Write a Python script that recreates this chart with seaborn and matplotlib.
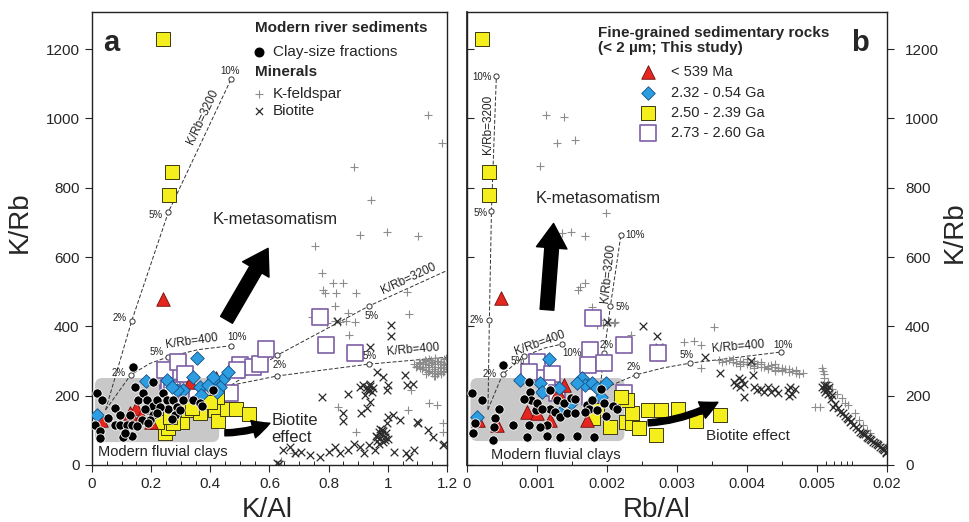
import numpy as np
import pandas as pd
import seaborn as sns
import matplotlib.pyplot as plt
from matplotlib.patches import FancyBboxPatch, FancyArrowPatch
from matplotlib.ticker import MultipleLocator, FixedLocator, FixedFormatter

sns.set_theme(style='ticks')
plt.rcParams['font.family'] = ['Liberation Sans', 'DejaVu Sans']

# ---------------- panel a : K/Al vs K/Rb ----------------
clay_a_x = [0.018, 0.010, 0.027, 0.033, 0.055, 0.078, 0.078, 0.095, 0.104, 0.117, 0.134, 0.138, 0.145, 0.157,
            0.173, 0.185, 0.19, 0.207, 0.207, 0.219, 0.241, 0.252, 0.258, 0.275, 0.286, 0.281, 0.297, 0.309,
            0.269, 0.342, 0.365, 0.371, 0.41, 0.168, 0.128, 0.196, 0.23, 0.219, 0.095, 0.179, 0.137, 0.112,
            0.19, 0.153, 0.027, 0.207]
clay_a_y = [208, 115, 99, 187, 135, 165, 115, 115, 82, 115, 115, 284, 226, 187, 207, 187, 159, 170, 144, 187,
            207, 187, 163, 187, 168, 144, 159, 187, 134, 187, 178, 170, 216, 130, 144, 130, 168, 149, 144, 163,
            85, 93, 120, 112, 78, 240]

red_a_x = [0.24, 0.13, 0.15, 0.20, 0.165, 0.33, 0.03, 0.42]
red_a_y = [480, 150, 165, 125, 140, 240, 130, 250]

blue_a_x = [0.018, 0.183, 0.354, 0.444, 0.41, 0.46, 0.252, 0.309, 0.365, 0.433, 0.421, 0.342, 0.393, 0.286,
            0.37, 0.269, 0.41]
blue_a_y = [145, 242, 308, 247, 245, 269, 245, 216, 224, 226, 211, 255, 231, 216, 202, 226, 255]

yel_a_x = [0.24, 0.27, 0.26, 0.247, 0.256, 0.303, 0.326, 0.365, 0.337, 0.416, 0.427, 0.455, 0.487, 0.532,
           0.421, 0.219, 0.275, 0.264, 0.399]
yel_a_y = [1230, 845, 780, 91, 106, 125, 159, 149, 165, 159, 128, 163, 163, 146, 197, 125, 122, 139, 183]

pur_a_x = [0.247, 0.292, 0.314, 0.5, 0.545, 0.568, 0.588, 0.489, 0.77, 0.79, 0.89, 0.258, 0.354, 0.467,
           0.262, 0.27]
pur_a_y = [274, 298, 262, 288, 282, 291, 334, 274, 428, 346, 322, 207, 202, 209, 222, 216]

kfs_a_x = [1.135, 1.182, 0.887, 0.943, 0.754, 0.906, 0.996, 1.103, 0.776, 0.78, 0.816, 0.85, 0.825, 0.788,
           0.893, 0.822, 0.867, 1.073, 1.064, 0.87, 0.743, 0.77, 0.838, 0.86, 0.89, 0.795, 0.82, 1.069,
           1.165, 1.188, 0.833, 0.892, 1.188, 1.08, 0.68, 0.64, 1.14,
           1.09, 1.10, 1.11, 1.12, 1.12, 1.13, 1.13, 1.14, 1.14, 1.14, 1.15, 1.15, 1.15, 1.16, 1.16, 1.16,
           1.17, 1.17, 1.17, 1.18, 1.18, 1.18, 1.19, 1.19, 1.19, 1.2, 1.2, 1.11, 1.13, 1.16,
           1.095, 1.105, 1.115, 1.125, 1.135, 1.145, 1.155, 1.165, 1.175, 1.185, 1.195, 1.125, 1.145, 1.165,
           1.185, 1.105, 1.135, 1.155, 1.175, 1.195]
kfs_a_y = [1009, 928, 860, 766, 632, 665, 673, 660, 553, 505, 524, 524, 495, 495, 495, 459, 439, 437, 500,
           375, 428, 424, 413, 416, 413, 410, 415, 159, 173, 120, 168, 96, 96, 216, 34, 12, 180,
           290, 286, 294, 282, 298, 275, 300, 270, 288, 305, 264, 282, 298, 272, 290, 308, 266, 284, 300,
           262, 280, 296, 270, 288, 305, 276, 295, 280, 262, 258,
           284, 292, 278, 290, 268, 294, 278, 300, 272, 290, 282, 302, 304, 262, 268, 296, 284, 258, 290, 310]

bt_a_x = [1.011, 1.011, 0.94, 0.827, 0.776, 0.867, 0.962, 0.985, 1.058, 0.917, 0.906, 0.929, 0.923, 0.996,
          0.999, 1.064, 0.85, 0.85, 0.91, 0.93, 0.94, 0.996, 1.0, 1.019, 1.04, 1.103, 1.137, 1.1, 1.153,
          1.188, 0.647, 0.669, 0.686, 0.708, 0.737, 0.77, 0.8, 0.82, 0.84, 0.867, 0.885, 0.906, 0.918,
          0.935, 0.957, 1.02, 1.06, 1.09, 1.07, 0.624, 0.633, 1.19, 1.085,
          0.96, 0.965, 0.97, 0.975, 0.98, 0.985, 0.99, 0.995, 0.97, 0.98, 0.99, 0.975, 0.965, 1.0, 0.985,
          0.93, 0.935, 0.94, 0.945, 0.95, 0.94]
bt_a_y = [404, 372, 341, 415, 197, 205, 269, 255, 260, 231, 226, 216, 202, 216, 231, 231, 149, 127, 149,
          164, 183, 120, 139, 144, 130, 121, 101, 125, 82, 58, 43, 53, 34, 38, 29, 24, 38, 53, 34, 43, 62,
          53, 34, 58, 43, 38, 34, 43, 24, 5, 2, 62, 235,
          85, 70, 95, 78, 88, 65, 80, 92, 60, 100, 72, 105, 80, 75, 98,
          225, 215, 235, 210, 222, 228]

# mixing curves (K/Rb = 3200 and 400) with 2, 5, 10 % marks
mix_a = [
    ([0.046, 0.134, 0.258, 0.47], [159, 415, 729, 1113]),
    ([0.046, 0.131, 0.196, 0.258, 0.36, 0.469], [159, 260, 293, 312, 333, 344]),
    ([0.47, 0.627, 0.937, 1.2], [230, 317, 459, 561]),
    ([0.47, 0.627, 0.936, 1.2], [230, 257, 291, 311]),
]
pct_a_x = [0.134, 0.258, 0.47, 0.131, 0.258, 0.469, 0.627, 0.937, 0.627, 0.936]
pct_a_y = [415, 729, 1113, 260, 312, 344, 317, 459, 257, 291]

# ---------------- panel b : Rb/Al vs K/Rb ----------------
clay_b_x = [0.000115, 0.00021, 0.00037, 0.0004, 0.00046, 0.00038, 0.00051, 0.00066, 0.00088, 0.0009,
            0.00091, 0.00088, 0.00098, 0.001, 0.00115, 0.00115, 0.00119, 0.00126, 0.00129, 0.00133,
            0.00138, 0.00143, 0.00148, 0.00155, 0.00157, 0.00105, 0.00172, 0.00174, 0.00179, 0.00186,
            0.00196, 0.00198, 0.00191, 0.00181, 0.00208, 0.00169, 0.00086, 0.00133, 0.00081, 0.00119,
            0.00107, 0.00155, 0.00215, 0.00007, 0.00009]
clay_b_y = [120, 187, 72, 135, 163, 110, 288, 115, 240, 211, 187, 115, 159, 178, 115, 84, 163, 154, 187,
            139, 178, 149, 192, 190, 84, 110, 173, 163, 187, 159, 178, 141, 218, 82, 170, 154, 82, 82, 190,
            216, 163, 149, 163, 207, 93]

red_b_x = [0.00049, 0.00086, 0.00119, 0.00138, 0.00043, 0.00172, 0.0013, 0.001, 0.00016]
red_b_y = [481, 154, 130, 231, 115, 130, 210, 149, 130]

blue_b_x = [0.00014, 0.00076, 0.00117, 0.00105, 0.00131, 0.00165, 0.00169, 0.00179, 0.00186, 0.00198,
            0.00148, 0.00157, 0.00133, 0.00191, 0.00107]
blue_b_y = [139, 245, 305, 236, 221, 250, 231, 238, 221, 236, 178, 236, 149, 197, 211]

yel_b_x = [0.00021, 0.00032, 0.00032, 0.00205, 0.00227, 0.00236, 0.00236, 0.00246, 0.00258, 0.00277,
           0.0027, 0.00301, 0.00327, 0.00362, 0.00229, 0.0022, 0.00186, 0.0018]
yel_b_y = [1230, 845, 780, 110, 125, 120, 149, 106, 159, 159, 87, 161, 128, 144, 187, 197, 159, 135]

pur_b_x = [0.0018, 0.00176, 0.00173, 0.00196, 0.00224, 0.00273, 0.001, 0.00088, 0.00122, 0.00114,
           0.00129, 0.00176, 0.00224]
pur_b_y = [423, 332, 288, 293, 346, 322, 298, 269, 262, 221, 207, 197, 207]

kfs_b_x = [0.00113, 0.00139, 0.00128, 0.00154, 0.00104, 0.00199, 0.00136, 0.00148, 0.00168, 0.00162,
           0.00158, 0.00168, 0.00179, 0.0018, 0.00191, 0.00203, 0.0021, 0.00212, 0.00195, 0.00186,
           0.00234, 0.00353, 0.0031, 0.00325, 0.00334, 0.00334, 0.00497, 0.0053,
           0.0036, 0.0037, 0.0038, 0.0039, 0.0039, 0.004, 0.004, 0.0041, 0.0041, 0.0042, 0.0042, 0.0043,
           0.0043, 0.0044, 0.0044, 0.0045, 0.0045, 0.0046, 0.0046, 0.0047, 0.0047, 0.0048, 0.0038, 0.0041,
           0.0044,
           0.00365, 0.00375, 0.00385, 0.00395, 0.00405, 0.00415, 0.00425, 0.00435, 0.00445, 0.00455,
           0.00465, 0.00475, 0.0039, 0.0041, 0.0043, 0.0045, 0.0047, 0.004, 0.0042, 0.0044,
           0.00548, 0.0056, 0.0057, 0.00625, 0.00739, 0.00815, 0.0093, 0.0106, 0.0125, 0.0143, 0.0163,
           0.0197, 0.0068, 0.0088, 0.0115, 0.0135, 0.0175, 0.0062, 0.0058]
kfs_b_y = [1011, 1003, 930, 939, 862, 726, 668, 673, 660, 514, 505, 524, 457, 428, 418, 414, 409, 414,
           404, 404, 375, 399, 356, 359, 346, 279, 168, 168,
           302, 300, 296, 292, 300, 290, 298, 285, 294, 282, 290, 278, 287, 275, 284, 272, 280, 268, 277,
           266, 273, 265, 305, 300, 270,
           298, 303, 294, 297, 288, 292, 284, 288, 279, 276, 271, 262, 286, 280, 280, 274, 270, 306, 296, 290,
           279, 270, 262, 231, 205, 192, 173, 149, 115, 91, 67, 53, 220, 180, 130, 100, 60, 240, 250]

bt_b_x = [0.00252, 0.00272, 0.00275, 0.002, 0.0034, 0.00361, 0.00406, 0.00408, 0.00396,
          0.00382, 0.00385, 0.00388, 0.0039, 0.00393, 0.00396, 0.0041, 0.00415, 0.0042, 0.00425, 0.0043,
          0.00435, 0.0044, 0.00445, 0.00459, 0.00462, 0.00465, 0.00468, 0.0046,
          0.00548, 0.0058, 0.006, 0.00606, 0.0062, 0.0064, 0.00669, 0.0069, 0.0079, 0.009, 0.0096, 0.0103,
          0.0117, 0.0125, 0.0134, 0.0143, 0.0152, 0.0163, 0.0174, 0.0185, 0.0195,
          0.0057, 0.0059, 0.0061, 0.0066, 0.0072, 0.0076, 0.0084, 0.0087, 0.0093, 0.0099, 0.0108, 0.0112,
          0.0121, 0.0129, 0.0138, 0.0147, 0.0157, 0.0168, 0.018, 0.019, 0.0198]
bt_b_y = [401, 372, 341, 413, 311, 266, 300, 260, 197,
          240, 230, 250, 225, 245, 235, 226, 215, 220, 210, 224, 212, 218, 207, 215, 225, 205, 220, 200,
          226, 220, 232, 215, 205, 225, 202, 168, 154, 135, 125, 115, 96, 90, 82, 75, 67, 60, 53, 45, 38,
          230, 210, 220, 190, 175, 165, 150, 140, 132, 128, 110, 105, 92, 88, 78, 72, 64, 57, 49, 42, 35]

mix_b = [
    ([0.0003, 0.00032, 0.00035, 0.00042], [160, 418, 733, 1122]),
    ([0.0003, 0.00051, 0.00082, 0.0011, 0.00136], [160, 262, 314, 337, 349]),
    ([0.0019, 0.00196, 0.00205, 0.0022], [216, 324, 459, 664]),
    ([0.0019, 0.00241, 0.0028, 0.00319, 0.00449], [216, 260, 280, 294, 326]),
]
pct_b_x = [0.00032, 0.00035, 0.00042, 0.00051, 0.00082, 0.00136, 0.00196, 0.00205, 0.0022, 0.00241,
           0.00319, 0.00449]
pct_b_y = [418, 733, 1122, 262, 314, 349, 324, 459, 664, 260, 294, 326]

# marker styles
STYLE = {
    'kfs': dict(marker='+', s=28, color='#8c8c8c', linewidth=0.8, zorder=2),
    'bt': dict(marker='x', s=30, color='#2a2a2a', linewidth=0.9, zorder=2),
    'pur': dict(marker='s', s=120, color='white', edgecolor='#7d5fa6', linewidth=1.2, zorder=3),
    'yel': dict(marker='s', s=105, color='#f4ee1c', edgecolor='#3c3a10', linewidth=0.7, zorder=4),
    'red': dict(marker='^', s=95, color='#e4261e', edgecolor='#6e0d0d', linewidth=0.6, zorder=4),
    'blue': dict(marker='D', s=48, color='#2b9de0', edgecolor='#164f86', linewidth=0.6, zorder=5),
    'clay': dict(marker='o', s=45, color='black', edgecolor='white', linewidth=0.6, zorder=6),
}


def scatter_groups(ax, groups):
    for key, xs, ys in groups:
        df = pd.DataFrame({'x': xs, 'y': ys})
        sns.scatterplot(data=df, x='x', y='y', ax=ax, legend=False, **STYLE[key])


def draw_mixing(ax, curves, px, py):
    for cx, cy in curves:
        ax.plot(cx, cy, ls=(0, (4, 2)), color='#333333', lw=0.7, zorder=1)
    ax.scatter(px, py, marker='o', s=14, facecolor='white', edgecolor='#333333', lw=0.7, zorder=2)


def add_texts(ax, items):
    for txt, x, y, rot, size in items:
        ax.text(x, y, txt, rotation=rot, fontsize=size, ha='center', va='center',
                rotation_mode='anchor', color='#222222', zorder=7)


fig = plt.figure(figsize=(9.69, 5.22), dpi=100)
ax_a = fig.add_axes([0.0949, 0.1092, 0.3664, 0.8678])
ax_b = fig.add_axes([0.4819, 0.1092, 0.4334, 0.8678])

# ---------- panel a ----------
ax_a.add_patch(FancyBboxPatch((0.01, 66), 0.42, 185, boxstyle='round,pad=0,rounding_size=0.025',
                              mutation_aspect=853, fc='#c8c8c8', ec='none', zorder=0))
draw_mixing(ax_a, mix_a, pct_a_x, pct_a_y)
scatter_groups(ax_a, [('kfs', kfs_a_x, kfs_a_y), ('bt', bt_a_x, bt_a_y), ('pur', pur_a_x, pur_a_y),
                      ('yel', yel_a_x, yel_a_y), ('red', red_a_x, red_a_y), ('blue', blue_a_x, blue_a_y),
                      ('clay', clay_a_x, clay_a_y)])
add_texts(ax_a, [
    ('10%', 0.467, 1137, 0, 7), ('5%', 0.216, 721, 0, 7), ('2%', 0.092, 423, 0, 7),
    ('2%', 0.089, 266, 0, 7), ('5%', 0.219, 327, 0, 7), ('10%', 0.489, 368, 0, 7),
    ('K/Rb=3200', 0.376, 1005, 65, 8.5), ('K/Rb=400', 0.337, 356, 8, 8.5),
    ('K/Rb=3200', 1.07, 536, 25, 8.5), ('K/Rb=400', 1.086, 332, 5, 8.5),
    ('5%', 0.946, 430, 0, 7), ('2%', 0.633, 288, 0, 7), ('5%', 0.937, 314, 0, 7),
])
ax_a.text(0.62, 707, 'K-metasomatism', fontsize=12, ha='center', va='center', zorder=7)
ax_a.add_patch(FancyArrowPatch((0.45, 412), (0.60, 632), arrowstyle='simple,head_width=2.0,head_length=1.6,tail_width=0.9',
                               mutation_scale=11, fc='black', ec='black', zorder=7))
ax_a.add_patch(FancyArrowPatch((0.44, 93), (0.61, 124), connectionstyle='arc3,rad=0.12',
                               arrowstyle='simple,head_width=1.6,head_length=1.6,tail_width=0.55',
                               mutation_scale=8, fc='black', ec='black', zorder=7))
ax_a.text(0.607, 104, 'Biotite\neffect', fontsize=12, ha='left', va='center', linespacing=1.15, zorder=7)
ax_a.text(0.02, 37, 'Modern fluvial clays', fontsize=10.5, ha='left', va='center', color='#222222', zorder=7)
ax_a.text(0.055, 0.931, 'a', transform=ax_a.transAxes, fontsize=21, fontweight='bold', ha='center', va='center')

# key of panel a
ax_a.text(0.459, 0.965, 'Modern river sediments', transform=ax_a.transAxes, fontsize=11, fontweight='bold',
          ha='left', va='center')
ax_a.scatter([0.47], [0.912], transform=ax_a.transAxes, marker='o', s=38, color='black', clip_on=False)
ax_a.text(0.51, 0.912, 'Clay-size fractions', transform=ax_a.transAxes, fontsize=11, ha='left', va='center')
ax_a.text(0.459, 0.868, 'Minerals', transform=ax_a.transAxes, fontsize=11, fontweight='bold',
          ha='left', va='center')
ax_a.scatter([0.47], [0.819], transform=ax_a.transAxes, marker='+', s=28, color='#8c8c8c', lw=0.8)
ax_a.text(0.51, 0.819, 'K-feldspar', transform=ax_a.transAxes, fontsize=11, ha='left', va='center')
ax_a.scatter([0.47], [0.781], transform=ax_a.transAxes, marker='x', s=26, color='#2a2a2a', lw=0.9)
ax_a.text(0.51, 0.781, 'Biotite', transform=ax_a.transAxes, fontsize=11, ha='left', va='center')

ax_a.set_xlim(0, 1.2)
ax_a.set_ylim(0, 1307)
ax_a.xaxis.set_minor_locator(MultipleLocator(0.05))
ax_a.set_xticks([0, 0.2, 0.4, 0.6, 0.8, 1.0, 1.2], ['0', '0.2', '0.4', '0.6', '0.8', '1', '1.2'])
ax_a.yaxis.set_major_locator(MultipleLocator(200))
ax_a.tick_params(axis='both', which='major', labelsize=11, length=5, width=0.8, direction='out', pad=4)
ax_a.tick_params(axis='x', which='minor', length=3, width=0.7, direction='in')
ax_a.set_xlabel('K/Al', fontsize=20)
ax_a.set_ylabel('K/Rb', fontsize=20)
ax_a.xaxis.set_label_coords(0.493, -0.07)
ax_a.yaxis.set_label_coords(-0.166, 0.536)

# ---------- panel b ----------
def fwd(x):
    x = np.asarray(x, dtype=float)
    return np.where(x <= 0.005, x * 1000.0, 5 + np.log(np.maximum(x, 0.005) / 0.005) / np.log(4))


def inv(u):
    u = np.asarray(u, dtype=float)
    return np.where(u <= 5, u / 1000.0, 0.005 * 4.0 ** (u - 5))


ax_b.set_xscale('function', functions=(fwd, inv))
ax_b.add_patch(FancyBboxPatch((0.00005, 69), 0.0022, 182, boxstyle='round,pad=0,rounding_size=0.0001',
                              mutation_aspect=2.0e5, fc='#c8c8c8', ec='none', zorder=0))
draw_mixing(ax_b, mix_b, pct_b_x, pct_b_y)
scatter_groups(ax_b, [('kfs', kfs_b_x, kfs_b_y), ('bt', bt_b_x, bt_b_y), ('pur', pur_b_x, pur_b_y),
                      ('yel', yel_b_x, yel_b_y), ('red', red_b_x, red_b_y), ('blue', blue_b_x, blue_b_y),
                      ('clay', clay_b_x, clay_b_y)])
add_texts(ax_b, [
    ('10%', 0.00021, 1120, 0, 7), ('5%', 0.0002, 727, 0, 7), ('2%', 0.00014, 418, 0, 7),
    ('K/Rb=3200', 0.0003, 984, 90, 8.5),
    ('2%', 0.00033, 262, 0, 7), ('5%', 0.00072, 300, 0, 7), ('10%', 0.0015, 324, 0, 7),
    ('K/Rb=400', 0.00104, 351, 20, 8.5),
    ('K/Rb=3200', 0.00202, 553, 84, 8.5), ('10%', 0.0024, 663, 0, 7), ('5%', 0.00222, 457, 0, 7),
    ('2%', 0.002, 346, 0, 7), ('2%', 0.00238, 282, 0, 7), ('5%', 0.00314, 317, 0, 7),
    ('10%', 0.00452, 346, 0, 7), ('K/Rb=400', 0.00388, 341, 5, 8.5),
])
ax_b.text(0.00187, 770, 'K-metasomatism', fontsize=12, ha='center', va='center', zorder=7)
ax_b.add_patch(FancyArrowPatch((0.00114, 440), (0.00124, 705), arrowstyle='simple,head_width=2.0,head_length=1.6,tail_width=0.9',
                               mutation_scale=11, fc='black', ec='black', zorder=7))
ax_b.add_patch(FancyArrowPatch((0.00255, 121), (0.00362, 185), connectionstyle='arc3,rad=0.12',
                               arrowstyle='simple,head_width=1.6,head_length=1.6,tail_width=0.55',
                               mutation_scale=8, fc='black', ec='black', zorder=7))
ax_b.text(0.00342, 85, 'Biotite effect', fontsize=11, ha='left', va='center', zorder=7)
ax_b.text(0.00035, 29, 'Modern fluvial clays', fontsize=10.5, ha='left', va='center', color='#222222', zorder=7)
ax_b.text(0.936, 0.931, 'b', transform=ax_b.transAxes, fontsize=21, fontweight='bold', ha='center', va='center')

# key of panel b
ax_b.text(0.312, 0.937, 'Fine-grained sedimentary rocks\n(< 2 µm; This study)', transform=ax_b.transAxes,
          fontsize=11, fontweight='bold', ha='left', va='center', linespacing=1.15)
key_y = [0.868, 0.821, 0.777, 0.733]
key_lab = ['< 539 Ma', '2.32 - 0.54 Ga', '2.50 - 2.39 Ga', '2.73 - 2.60 Ga']
for key, ky, lab in zip(['red', 'blue', 'yel', 'pur'], key_y, key_lab):
    st = {k: v for k, v in STYLE[key].items() if k != 'zorder'}
    ax_b.scatter([0.431], [ky], transform=ax_b.transAxes, **st)
    ax_b.text(0.487, ky, lab, transform=ax_b.transAxes, fontsize=10.5, ha='left', va='center')

ax_b.set_xlim(0, 0.02)
ax_b.set_ylim(0, 1307)
ax_b.xaxis.set_major_locator(FixedLocator([0, 0.001, 0.002, 0.003, 0.004, 0.005, 0.02]))
ax_b.xaxis.set_major_formatter(FixedFormatter(['0', '0.001', '0.002', '0.003', '0.004', '0.005', '0.02']))
ax_b.xaxis.set_minor_locator(FixedLocator([0.0005, 0.0015, 0.0025, 0.0035, 0.0045,
                                           0.006, 0.007, 0.008, 0.009, 0.01]))
ax_b.yaxis.set_major_locator(MultipleLocator(200))
ax_b.yaxis.tick_right()
ax_b.yaxis.set_label_position('right')
ax_b.tick_params(axis='x', which='major', labelsize=10.5, length=5, width=0.8, direction='out', pad=4)
ax_b.tick_params(axis='x', which='minor', length=3, width=0.7, direction='in')
ax_b.tick_params(axis='y', which='major', labelsize=11, length=5, width=0.8, direction='out', pad=8)
left_ax = ax_b.secondary_yaxis('left')
left_ax.yaxis.set_major_locator(MultipleLocator(200))
left_ax.tick_params(axis='y', direction='in', length=5, width=0.8, labelleft=False)
ax_b.set_xlabel('Rb/Al', fontsize=20)
ax_b.set_ylabel('K/Rb', fontsize=20)
ax_b.xaxis.set_label_coords(0.452, -0.07)
ax_b.yaxis.set_label_coords(1.131, 0.514)

for ax in (ax_a, ax_b):
    for sp in ax.spines.values():
        sp.set_color('#222222')
        sp.set_linewidth(1.0)
    ax.set_facecolor('white')

plt.savefig('out.png', dpi=100)
plt.close()
